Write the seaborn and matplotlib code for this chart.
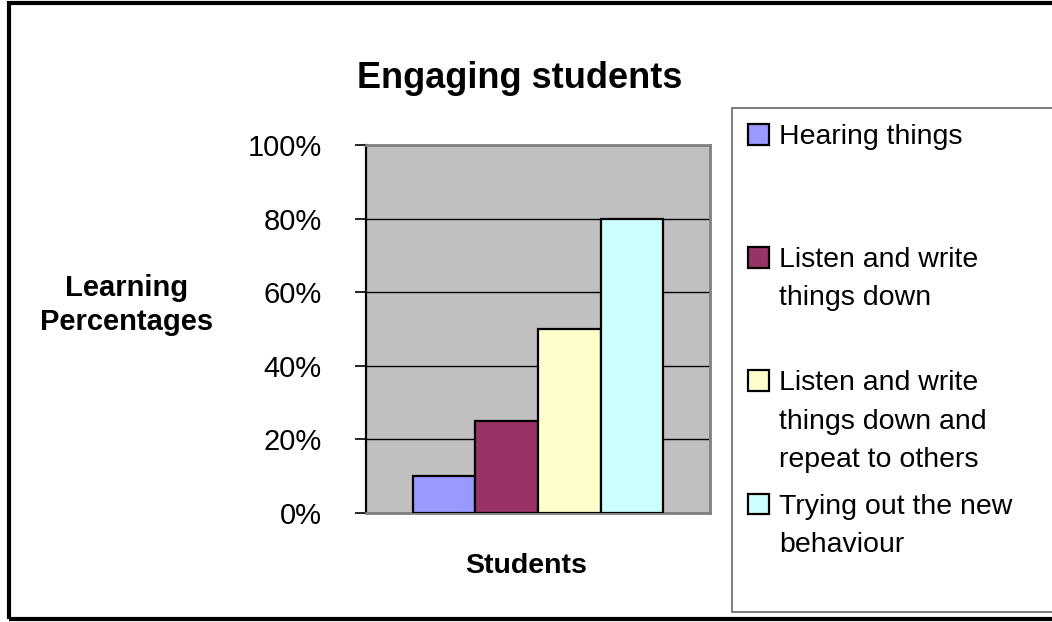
import matplotlib
matplotlib.use("Agg")
import matplotlib.pyplot as plt
import seaborn as sns
import pandas as pd
from matplotlib.offsetbox import HPacker
from matplotlib.patches import Rectangle

# ---- data ----
group = ["Students"]
series = ["Hearing things",
          "Listen and write things down",
          "Listen and write things down and repeat to others",
          "Trying out the new behaviour"]
legend_labels = ["Hearing things\n\n",
                 "Listen and write\nthings down\n",
                 "Listen and write\nthings down and\nrepeat to others",
                 "Trying out the new\nbehaviour\n"]
values = [10, 25, 50, 80]
colors = ["#9999FF", "#993366", "#FFFFCC", "#CCFFFF"]
yticks = [0, 20, 40, 60, 80, 100]
ytick_labels = ["0%", "20%", "40%", "60%", "80%", "100%"]

df = pd.DataFrame({"group": group * len(series), "series": series, "value": values})

sns.set_theme(style="white")
plt.rcParams["font.family"] = ["Liberation Sans", "DejaVu Sans"]
plt.rcParams["text.color"] = "black"
plt.rcParams["axes.labelcolor"] = "black"
plt.rcParams["xtick.color"] = "black"
plt.rcParams["ytick.color"] = "black"

W, H = 1052, 622
fig = plt.figure(figsize=(W / 100, H / 100), dpi=100)
fig.patch.set_facecolor("white")

ax = fig.add_axes([366 / W, 1 - 513 / H, (710 - 366) / W, (513 - 145) / H])
ax.set_facecolor("#C0C0C0")

sns.barplot(data=df, x="group", y="value", hue="series", hue_order=series,
            palette=colors, width=0.727, edgecolor="black", linewidth=1.6,
            saturation=1, ax=ax, legend=False, zorder=3)

ax.set_xlim(-0.5, 0.5)
ax.set_ylim(0, 100)
ax.set_yticks(yticks)
ax.set_yticklabels(ytick_labels, fontsize=21, color="black")
ax.set_xticks([])
ax.yaxis.grid(True, color="black", linewidth=1.0, zorder=1)
ax.set_axisbelow(True)
ax.tick_params(axis="y", direction="out", length=8, width=1.2, color="black",
               pad=24, left=True)
for s in ["top", "right", "bottom"]:
    ax.spines[s].set_color("#808080")
    ax.spines[s].set_linewidth(2)
ax.spines["left"].set_color("black")
ax.spines["left"].set_linewidth(1.6)

ax.set_ylabel("Learning\nPercentages", rotation=0, fontsize=21, fontweight="bold",
              ha="center", va="center", linespacing=1.3, color="black")
ax.yaxis.set_label_coords((127 - 366) / 344, (513 - 305) / 368)
ax.set_xlabel("Students", fontsize=20.5, fontweight="bold", va="center", color="black")
ax.xaxis.set_label_coords((526 - 366) / 344, (513 - 566) / 368)

fig.text(520 / W, 1 - 78 / H, "Engaging students", fontsize=26, fontweight="bold",
         ha="center", va="center", color="black")

# legend
handles = [Rectangle((0, 0), 1, 1, facecolor=c, edgecolor="black", linewidth=1.6)
           for c in colors]
leg = fig.legend(handles, legend_labels, loc="upper left",
                 bbox_to_anchor=(732 / W, 0.0, 0.4, 1 - 108 / H),
                 bbox_transform=fig.transFigure, mode="expand", borderaxespad=0,
                 fontsize=20.5, frameon=True, fancybox=False, borderpad=0.55,
                 handlelength=0.75, handleheight=0.75, handletextpad=0.35,
                 labelspacing=0.72)
leg.get_frame().set_edgecolor("#404040")
leg.get_frame().set_linewidth(1.2)
for t in leg.get_texts():
    t.set_linespacing(1.62)
    t.set_color("black")
for hp in leg.findobj(HPacker):
    hp.align = "top"

# outer border
fig.patches.append(Rectangle((9 / W, 1 - 619 / H), 1.2, (619 - 3) / H,
                             transform=fig.transFigure, fill=False,
                             edgecolor="black", linewidth=3, zorder=10))

fig.savefig("out.png", dpi=100)
